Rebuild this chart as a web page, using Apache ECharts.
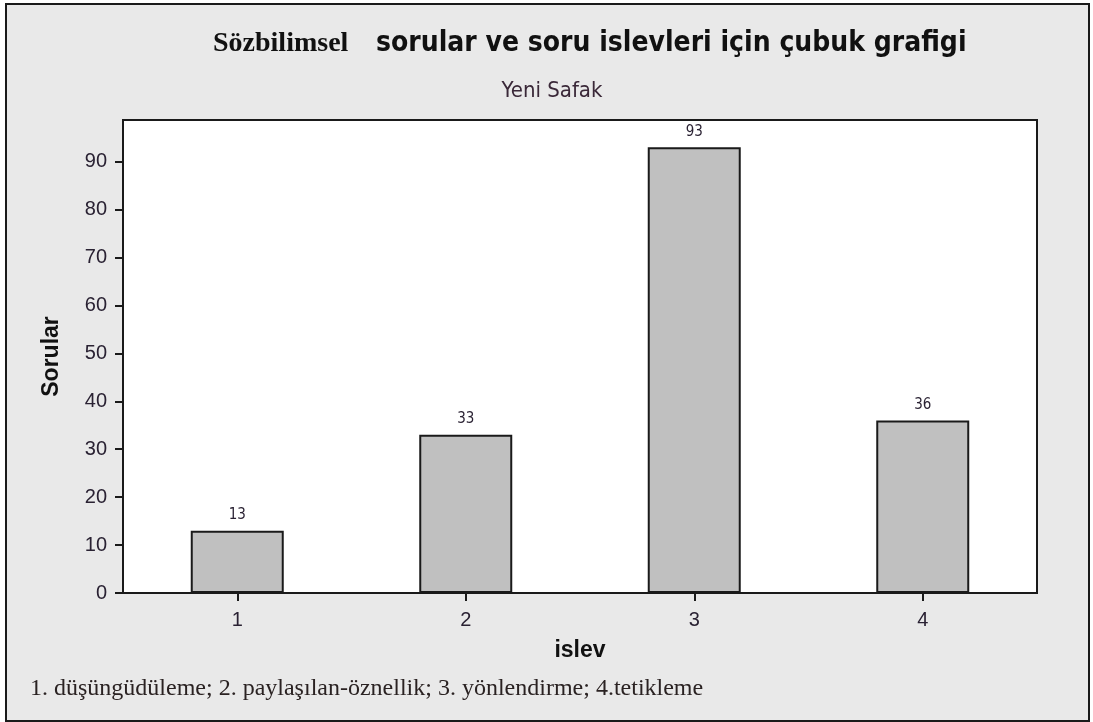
<!DOCTYPE html>
<html>
<head>
<meta charset="utf-8">
<script src="https://cdn.jsdelivr.net/npm/echarts@6/dist/echarts.min.js"></script>
<style>
  html, body { margin: 0; padding: 0; background: #ffffff; }
  #frame { position: absolute; left: 5px; top: 3px; width: 1085px; height: 719px; box-sizing: border-box;
           border: 2px solid #1a1a1a; background: #e9e9e9; }
  #chart { position: absolute; left: 0; top: 0; width: 1093px; height: 722px; }
</style>
</head>
<body>
<div id="frame"></div>
<div id="chart"></div>
<script>
// ---- data ----
const categories = ['1', '2', '3', '4'];
const values = [13, 33, 93, 36];
const yTicks = [0, 10, 20, 30, 40, 50, 60, 70, 80, 90];
const titleMain = 'Sözbilimsel';
const titleRest = 'sorular ve soru islevleri için çubuk grafigi';
const subtitle = 'Yeni Safak';
const yName = 'Sorular';
const xName = 'islev';
const footnote = '1. düşüngüdüleme; 2. paylaşılan-öznellik; 3. yönlendirme; 4.tetikleme';

const chart = echarts.init(document.getElementById('chart'), null, { renderer: 'canvas' });
const textColor = '#2a2233';
const condensed = '"DejaVu Sans Condensed", "DejaVu Sans", sans-serif';

chart.setOption({
  backgroundColor: 'transparent',
  animation: false,
  title: [{
    text: titleMain,
    left: 208, top: 25,
    textStyle: { fontFamily: 'Liberation Serif', fontWeight: 'bold', fontSize: 28, color: '#111' }
  }, {
    text: titleRest,
    left: 371, top: 25,
    textStyle: { fontFamily: condensed, fontWeight: 'bold', fontSize: 28, color: '#111' }
  }, {
    text: subtitle,
    left: 547, top: 75, textAlign: 'center',
    textStyle: { fontFamily: condensed, fontWeight: 'normal', fontSize: 22, color: '#3a2838' }
  }],
  graphic: [{
    type: 'text', left: 30, top: 677, silent: true,
    style: { text: footnote, font: '24px "Liberation Serif"', fill: '#2a2222' }
  }],
  grid: {
    left: 123, top: 120, width: 914, height: 473,
    show: true, backgroundColor: '#ffffff', borderColor: '#1a1a1a', borderWidth: 2
  },
  xAxis: {
    type: 'category', data: categories, boundaryGap: true,
    name: xName, nameLocation: 'middle', nameGap: 46,
    nameTextStyle: { fontFamily: 'Liberation Sans', fontWeight: 'bold', fontSize: 23, color: '#111' },
    axisLine: { show: true, lineStyle: { color: '#1a1a1a', width: 2 } },
    axisTick: { show: true, alignWithLabel: true, length: 8, lineStyle: { color: '#1a1a1a', width: 2 } },
    axisLabel: { margin: 17, fontFamily: 'Liberation Sans', fontSize: 20, color: textColor },
    splitLine: { show: false }
  },
  yAxis: {
    type: 'value', min: 0, max: 98.7,
    name: yName, nameLocation: 'middle', nameGap: 60, nameRotate: 90,
    nameTextStyle: { fontFamily: 'Liberation Sans', fontWeight: 'bold', fontSize: 23, color: '#111' },
    axisLine: { show: true, lineStyle: { color: '#1a1a1a', width: 2 } },
    axisTick: { show: true, length: 8, customValues: yTicks, lineStyle: { color: '#1a1a1a', width: 2 } },
    axisLabel: { margin: 16, customValues: yTicks, fontFamily: 'Liberation Sans', fontSize: 20, color: textColor },
    splitLine: { show: false }
  },
  series: [{
    type: 'bar', data: values, barWidth: '40.7%',
    itemStyle: { color: '#c0c0c0', borderColor: '#1a1a1a', borderWidth: 2 },
    label: { show: true, position: 'top', distance: 8, fontFamily: condensed, fontSize: 15, color: '#2a2233' }
  }]
});
</script>
</body>
</html>
